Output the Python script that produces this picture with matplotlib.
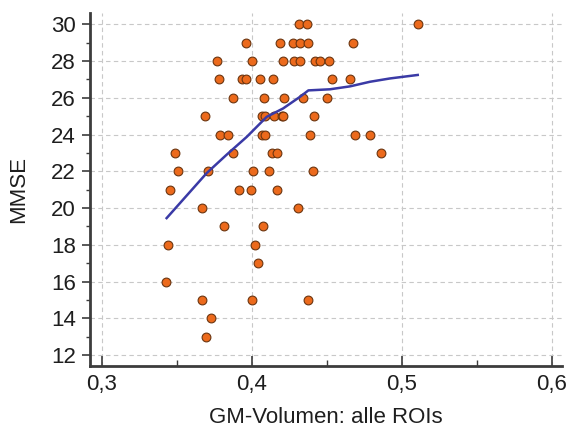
import matplotlib
matplotlib.use("Agg")
import matplotlib.pyplot as plt
from matplotlib.ticker import MultipleLocator, FuncFormatter

# --- Datos: volumen de sustancia gris (todas las ROIs) vs. MMSE ---
gm_volumen = [
    0.4317, 0.4367, 0.511,
    0.396, 0.419, 0.4273, 0.4322, 0.4378, 0.4678,
    0.3767, 0.400, 0.421, 0.428, 0.432, 0.4422, 0.4456, 0.4517,
    0.3784, 0.3933, 0.3962, 0.4056, 0.414, 0.4533, 0.4656,
    0.3878, 0.408, 0.4215, 0.434, 0.4504,
    0.3689, 0.4067, 0.4089, 0.4149, 0.420, 0.421, 0.4417,
    0.3789, 0.3844, 0.4067, 0.409, 0.4389, 0.4689, 0.4789,
    0.349, 0.3878, 0.4133, 0.4171, 0.486,
    0.3511, 0.3707, 0.4007, 0.4116, 0.4407,
    0.3455, 0.3918, 0.3996, 0.4167,
    0.3667, 0.431,
    0.3818, 0.4078,
    0.3444, 0.4022,
    0.4044,
    0.3429,
    0.3667, 0.400, 0.4378,
    0.3729,
    0.3696,
]
mmse = (
    [30] * 3 + [29] * 6 + [28] * 8 + [27] * 7 + [26] * 5 + [25] * 7
    + [24] * 7 + [23] * 5 + [22] * 5 + [21] * 4 + [20] * 2 + [19] * 2
    + [18] * 2 + [17] + [16] + [15] * 3 + [14] + [13]
)

# curva de ajuste (suavizado)
trend_x = [0.3433, 0.370, 0.3833, 0.3967, 0.410, 0.421, 0.4322, 0.4378,
           0.4522, 0.4656, 0.4789, 0.4922, 0.5107]
trend_y = [19.45, 21.9, 22.9, 23.87, 24.96, 25.42, 26.05, 26.4,
           26.46, 26.62, 26.87, 27.05, 27.24]

x_ticks = [0.3, 0.4, 0.5, 0.6]
y_ticks = list(range(12, 31, 2))

plt.rcParams['font.family'] = ['Liberation Sans', 'DejaVu Sans']

fig = plt.figure(figsize=(5.67, 4.28), dpi=100)
ax = fig.add_axes([0.1587, 0.146, 0.832, 0.824])

ax.scatter(gm_volumen, mmse, s=40, color='#ec6a1c', edgecolors='#6b3510',
           linewidths=0.8, zorder=3)
ax.plot(trend_x, trend_y, color='#3a3aa6', lw=1.8, zorder=4)

ax.set_xlim(0.2922, 0.6067)
ax.set_ylim(11.43, 30.62)
ax.set_xticks(x_ticks)
ax.set_yticks(y_ticks)
ax.xaxis.set_minor_locator(MultipleLocator(0.05))
ax.yaxis.set_minor_locator(MultipleLocator(1))
ax.xaxis.set_major_formatter(FuncFormatter(lambda v, p: f"{v:.1f}".replace('.', ',')))

ax.grid(True, which='major', color='#c8c8c8', linestyle=(0, (4, 3)), lw=0.8)
ax.set_axisbelow(True)

for lado in ['top', 'right']:
    ax.spines[lado].set_visible(False)
for lado in ['left', 'bottom']:
    ax.spines[lado].set_color('#3c3c3c')
    ax.spines[lado].set_linewidth(2.0)

ax.tick_params(axis='y', which='major', direction='out', length=6, width=1.2,
               color='#3c3c3c', labelsize=16, pad=4, labelcolor='#1e1e1e')
ax.tick_params(axis='y', which='minor', direction='out', length=3, width=1.0,
               color='#3c3c3c')
ax.tick_params(axis='x', which='major', direction='in', length=7, width=1.2,
               color='#3c3c3c', labelsize=16, pad=6, labelcolor='#1e1e1e')
ax.tick_params(axis='x', which='minor', direction='in', length=4, width=1.0,
               color='#3c3c3c')

ax.set_xlabel("GM-Volumen: alle ROIs", fontsize=16, labelpad=9, color='#1e1e1e')
ax.set_ylabel("MMSE", fontsize=16, labelpad=16, color='#1e1e1e')

fig.savefig("out.png", dpi=100)
